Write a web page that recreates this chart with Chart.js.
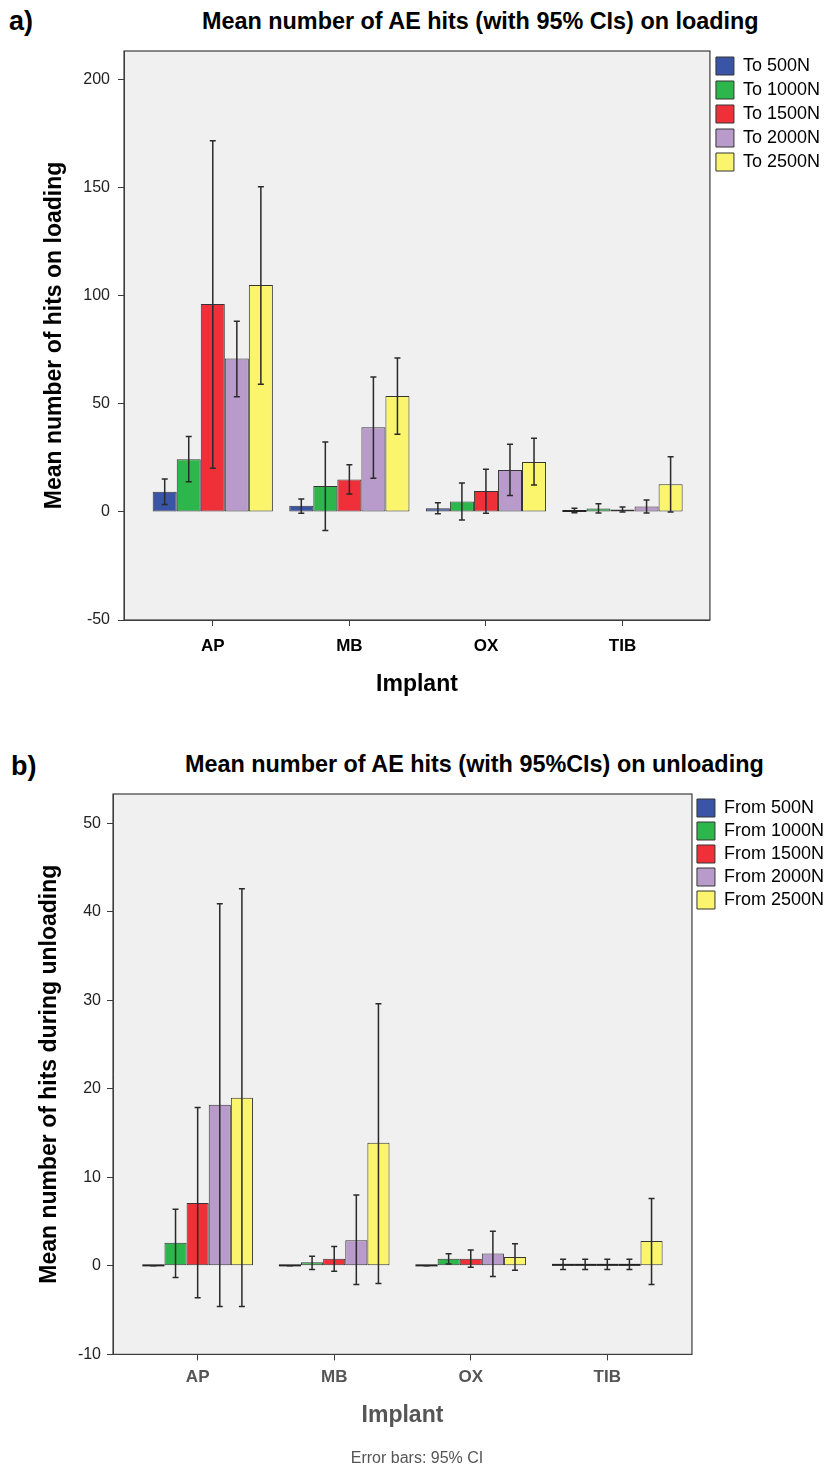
<!DOCTYPE html>
<html>
<head>
<meta charset="utf-8">
<script src="https://cdn.jsdelivr.net/npm/chart.js@4.4.0/dist/chart.umd.min.js"></script>
<style>
body { margin: 0; background: #fff; width: 824px; height: 1472px; position: relative; overflow: hidden; font-family: "Liberation Sans", Arial, sans-serif; }
canvas { position: absolute; left: 0; }
#chartA { top: 0; }
#chartB { top: 740px; }
.tag { position: absolute; font-weight: bold; font-size: 27px; line-height: 1; color: #000; }
.ttl { position: absolute; font-weight: bold; font-size: 23.4px; line-height: 1; color: #000; white-space: nowrap; }
</style>
</head>
<body>
<div class="tag" style="left:9px; top:8px">a)</div>
<div class="ttl" style="left:202px; top:10px">Mean number of AE hits (with 95% CIs) on loading</div>
<canvas id="chartA" width="824" height="740"></canvas>
<div class="tag" style="left:11px; top:753px">b)</div>
<div class="ttl" style="left:185px; top:753px">Mean number of AE hits (with 95%CIs) on unloading</div>
<canvas id="chartB" width="824" height="732"></canvas>
<script>
var implants = ['AP', 'MB', 'OX', 'TIB'];
var loadNames = ['To 500N', 'To 1000N', 'To 1500N', 'To 2000N', 'To 2500N'];
var unloadNames = ['From 500N', 'From 1000N', 'From 1500N', 'From 2000N', 'From 2500N'];
var barColors = ['#3a55a6', '#2cb64b', '#ef3039', '#b99bcb', '#fbf56d'];

// rows = force level, columns = implant
var loadMean = [
    [9.4, 2.9, 1.7, 0.6],
    [24.4, 12.0, 4.8, 1.6],
    [96.3, 15.0, 9.7, 1.1],
    [71.0, 39.2, 19.4, 2.5],
    [105.1, 53.7, 23.1, 12.8]
];
var loadLow = [
    [3.5, -0.6, -0.8, -0.4],
    [14.0, -8.6, -3.7, -0.5],
    [20.2, 8.3, -0.6, 0.0],
    [53.4, 15.6, 7.6, -0.5],
    [59.1, 36.0, 12.5, 0.0]
];
var loadHigh = [
    [15.3, 6.0, 4.3, 1.7],
    [34.9, 32.4, 13.4, 3.8],
    [171.9, 21.9, 19.8, 2.3],
    [88.3, 62.5, 31.3, 5.6],
    [150.6, 71.3, 34.1, 25.6]
];

var unloadMean = [
    [0, 0, 0, 0.1],
    [2.6, 0.4, 0.8, 0.1],
    [7.1, 0.8, 0.8, 0.1],
    [18.2, 2.9, 1.4, 0.1],
    [19.0, 13.9, 1.0, 2.8]
];
var unloadLow = [
    [0, 0, 0, -0.4],
    [-1.3, -0.4, 0.2, -0.4],
    [-3.6, -0.6, -0.15, -0.4],
    [-4.6, -2.1, -1.2, -0.4],
    [-4.6, -2.0, -0.5, -2.1]
];
var unloadHigh = [
    [0, 0, 0, 0.75],
    [6.4, 1.1, 1.36, 0.75],
    [17.9, 2.2, 1.8, 0.75],
    [40.9, 8.0, 3.9, 0.75],
    [42.6, 29.6, 2.5, 7.6]
];

var fontFamily = '"Liberation Sans", Arial, sans-serif';

// grey plot background + frame
var plotFrame = {
    id: 'plotFrame',
    beforeDraw: function(chart) {
        var a = chart.chartArea, ctx = chart.ctx;
        ctx.save();
        ctx.fillStyle = '#f0f0f0';
        ctx.fillRect(a.left, a.top, a.right - a.left, a.bottom - a.top);
        ctx.restore();
    },
    afterDraw: function(chart) {
        var a = chart.chartArea, ctx = chart.ctx;
        ctx.save();
        ctx.strokeStyle = '#3c3c3c';
        ctx.lineWidth = 1.2;
        ctx.strokeRect(a.left, a.top, a.right - a.left, a.bottom - a.top);
        ctx.restore();
    }
};

// 95% CI whiskers (and a flat line for bars too thin to show)
var errorBars = {
    id: 'errorBars',
    afterDatasetsDraw: function(chart) {
        var ctx = chart.ctx, y = chart.scales.y;
        ctx.save();
        chart.data.datasets.forEach(function(ds, i) {
            chart.getDatasetMeta(i).data.forEach(function(bar, j) {
                var x = bar.x;
                if (Math.abs(bar.base - bar.y) < 1.5) {
                    ctx.strokeStyle = '#222';
                    ctx.lineWidth = 2;
                    ctx.beginPath();
                    ctx.moveTo(x - bar.width / 2, bar.base - 0.5);
                    ctx.lineTo(x + bar.width / 2, bar.base - 0.5);
                    ctx.stroke();
                }
                var top = y.getPixelForValue(ds.highs[j]);
                var bot = y.getPixelForValue(ds.lows[j]);
                ctx.strokeStyle = '#2a2a2a';
                ctx.lineWidth = 1.5;
                ctx.beginPath();
                ctx.moveTo(x, top); ctx.lineTo(x, bot);
                ctx.moveTo(x - 3, top); ctx.lineTo(x + 3, top);
                ctx.moveTo(x - 3, bot); ctx.lineTo(x + 3, bot);
                ctx.stroke();
            });
        });
        ctx.restore();
    }
};

function buildChart(id, names, means, lows, highs, o) {
    var datasets = names.map(function(name, i) {
        return {
            label: name,
            data: means[i].map(function(v, j) { return {x: j, y: v}; }),
            lows: lows[i],
            highs: highs[i],
            backgroundColor: barColors[i],
            borderColor: '#353535',
            borderWidth: 1,
            borderSkipped: false,
            categoryPercentage: o.groupPct,
            barPercentage: 1
        };
    });

    var plugins = {
        legend: {
            position: 'right',
            align: 'start',
            fullSize: false,
            labels: {
                boxWidth: 18, boxHeight: 18, padding: o.legendPad,
                color: '#000',
                font: {family: fontFamily, size: 18}
            }
        },
        tooltip: {enabled: false},
        title: {display: false}
    };
    if (o.note) {
        plugins.subtitle = {
            display: true, position: 'bottom', text: o.note, color: '#555',
            font: {family: fontFamily, size: 16},
            padding: {top: 0, bottom: 4}
        };
    }

    return new Chart(document.getElementById(id), {
        type: 'bar',
        data: {datasets: datasets},
        plugins: [plotFrame, errorBars],
        options: {
            responsive: false,
            animation: false,
            layout: {padding: {left: 0, right: o.padRight, top: o.padTop, bottom: 0}},
            plugins: plugins,
            scales: {
                x: {
                    type: 'linear',
                    min: o.xMin, max: o.xMax,
                    offset: false,
                    afterBuildTicks: function(s) { s.ticks = implants.map(function(_, i) { return {value: i}; }); },
                    afterFit: function(s) { s.height = o.xHeight; },
                    ticks: {
                        callback: function(v) { return implants[v]; },
                        color: o.xColor, padding: o.xTickPad,
                        font: {family: fontFamily, size: 17, weight: 'bold'}
                    },
                    grid: {drawOnChartArea: false, drawTicks: true, tickLength: 6, color: '#3c3c3c', offset: false},
                    border: {display: true, color: '#3c3c3c'},
                    title: {
                        display: true, text: 'Implant', color: o.xColor,
                        font: {family: fontFamily, size: 23, weight: 'bold'},
                        padding: {top: 0, bottom: o.xTitlePad}
                    }
                },
                y: {
                    min: o.yMin, max: o.yMax,
                    afterFit: function(s) { s.width = o.yWidth; },
                    ticks: {
                        stepSize: o.yStep, includeBounds: false,
                        color: '#222', padding: o.yTickPad,
                        font: {family: fontFamily, size: 16}
                    },
                    grid: {drawOnChartArea: false, drawTicks: true, tickLength: 6, color: '#3c3c3c'},
                    border: {display: true, color: '#3c3c3c'},
                    title: {
                        display: true, text: o.yTitle, color: '#000',
                        font: {family: fontFamily, size: 23, weight: 'bold'},
                        padding: {top: o.yTitlePad, bottom: 0}
                    }
                }
            }
        }
    });
}

buildChart('chartA', loadNames, loadMean, loadLow, loadHigh, {
    groupPct: 0.88, legendPad: 6, padRight: -6, padTop: 51,
    xMin: -0.65, xMax: 3.64, xHeight: 120, xTickPad: 10, xTitlePad: 42, xColor: '#000',
    yMin: -50, yMax: 213.4, yStep: 50, yWidth: 124, yTickPad: 8, yTitlePad: 41,
    yTitle: 'Mean number of hits on loading'
});

buildChart('chartB', unloadNames, unloadMean, unloadLow, unloadHigh, {
    groupPct: 0.81, legendPad: 5, padRight: -10, padTop: 54,
    xMin: -0.62, xMax: 3.62, xHeight: 94.4, xTickPad: 7, xTitlePad: 19.6, xColor: '#555',
    yMin: -10, yMax: 53.3, yStep: 10, yWidth: 113, yTickPad: 6, yTitlePad: 36,
    yTitle: 'Mean number of hits during unloading',
    note: 'Error bars: 95% CI'
});
</script>
</body>
</html>
